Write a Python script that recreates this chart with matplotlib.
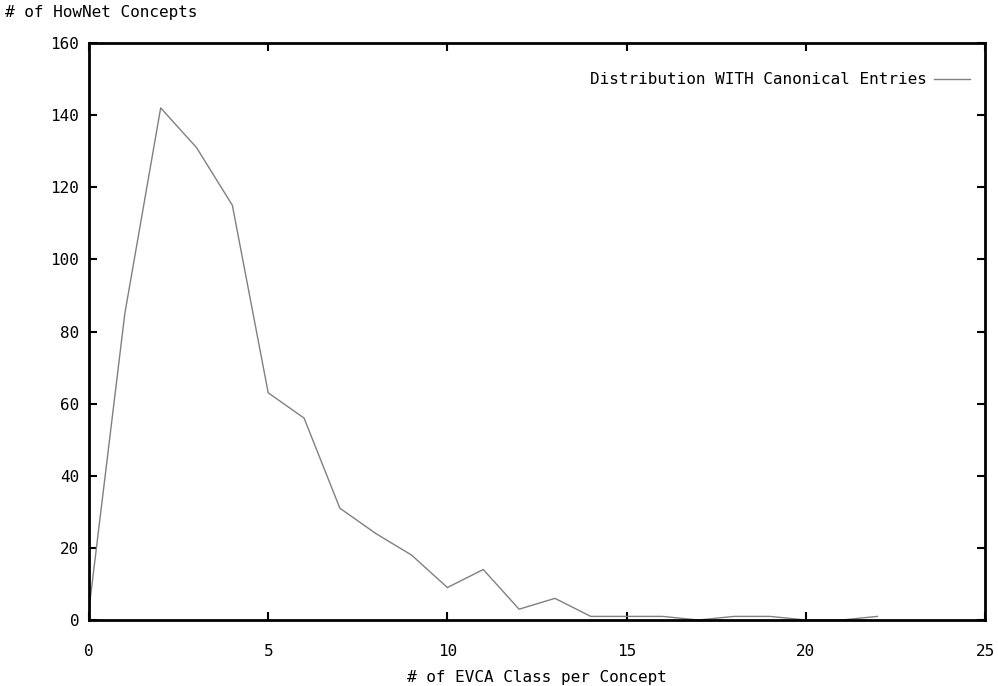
import matplotlib.pyplot as plt
import numpy as np

# EVCA classes per concept vs number of HowNet concepts
n_classes = list(range(0, 23))
n_concepts = [3, 85, 142, 131, 115, 63, 56, 31, 24, 18, 9, 14, 3, 6,
              1, 1, 1, 0, 1, 1, 0, 0, 1]
x_ticks = [0, 5, 10, 15, 20, 25]
y_ticks = [0, 20, 40, 60, 80, 100, 120, 140, 160]

plt.rcParams['font.family'] = 'DejaVu Sans Mono'
plt.rcParams['font.size'] = 11.5

fig = plt.figure(figsize=(9.98, 6.86), dpi=100)
ax = fig.add_axes([89/998, 66/686, 896/998, 577/686])

ax.plot(n_classes, n_concepts, color='#808080', linewidth=1.0)
ax.set_xlim(0, 25)
ax.set_ylim(0, 160)
ax.set_xticks(x_ticks)
ax.set_yticks(y_ticks)
ax.tick_params(direction='in', length=6, width=1.5, top=True, right=True)
ax.tick_params(axis='y', pad=7)
ax.tick_params(axis='x', pad=17)
for s in ax.spines.values():
    s.set_linewidth(2)

ax.set_xlabel('# of EVCA Class per Concept', labelpad=8)
fig.text(5/998, 1 - 13/686, '# of HowNet Concepts', ha='left', va='center')

# legend drawn like gnuplot key
ax.text(0.935, 0.937, 'Distribution WITH Canonical Entries', transform=ax.transAxes,
        ha='right', va='center')
ax.plot([0.943, 0.983], [0.937, 0.937], transform=ax.transAxes,
        color='#808080', linewidth=1.0)

fig.savefig('out.png', dpi=100)
